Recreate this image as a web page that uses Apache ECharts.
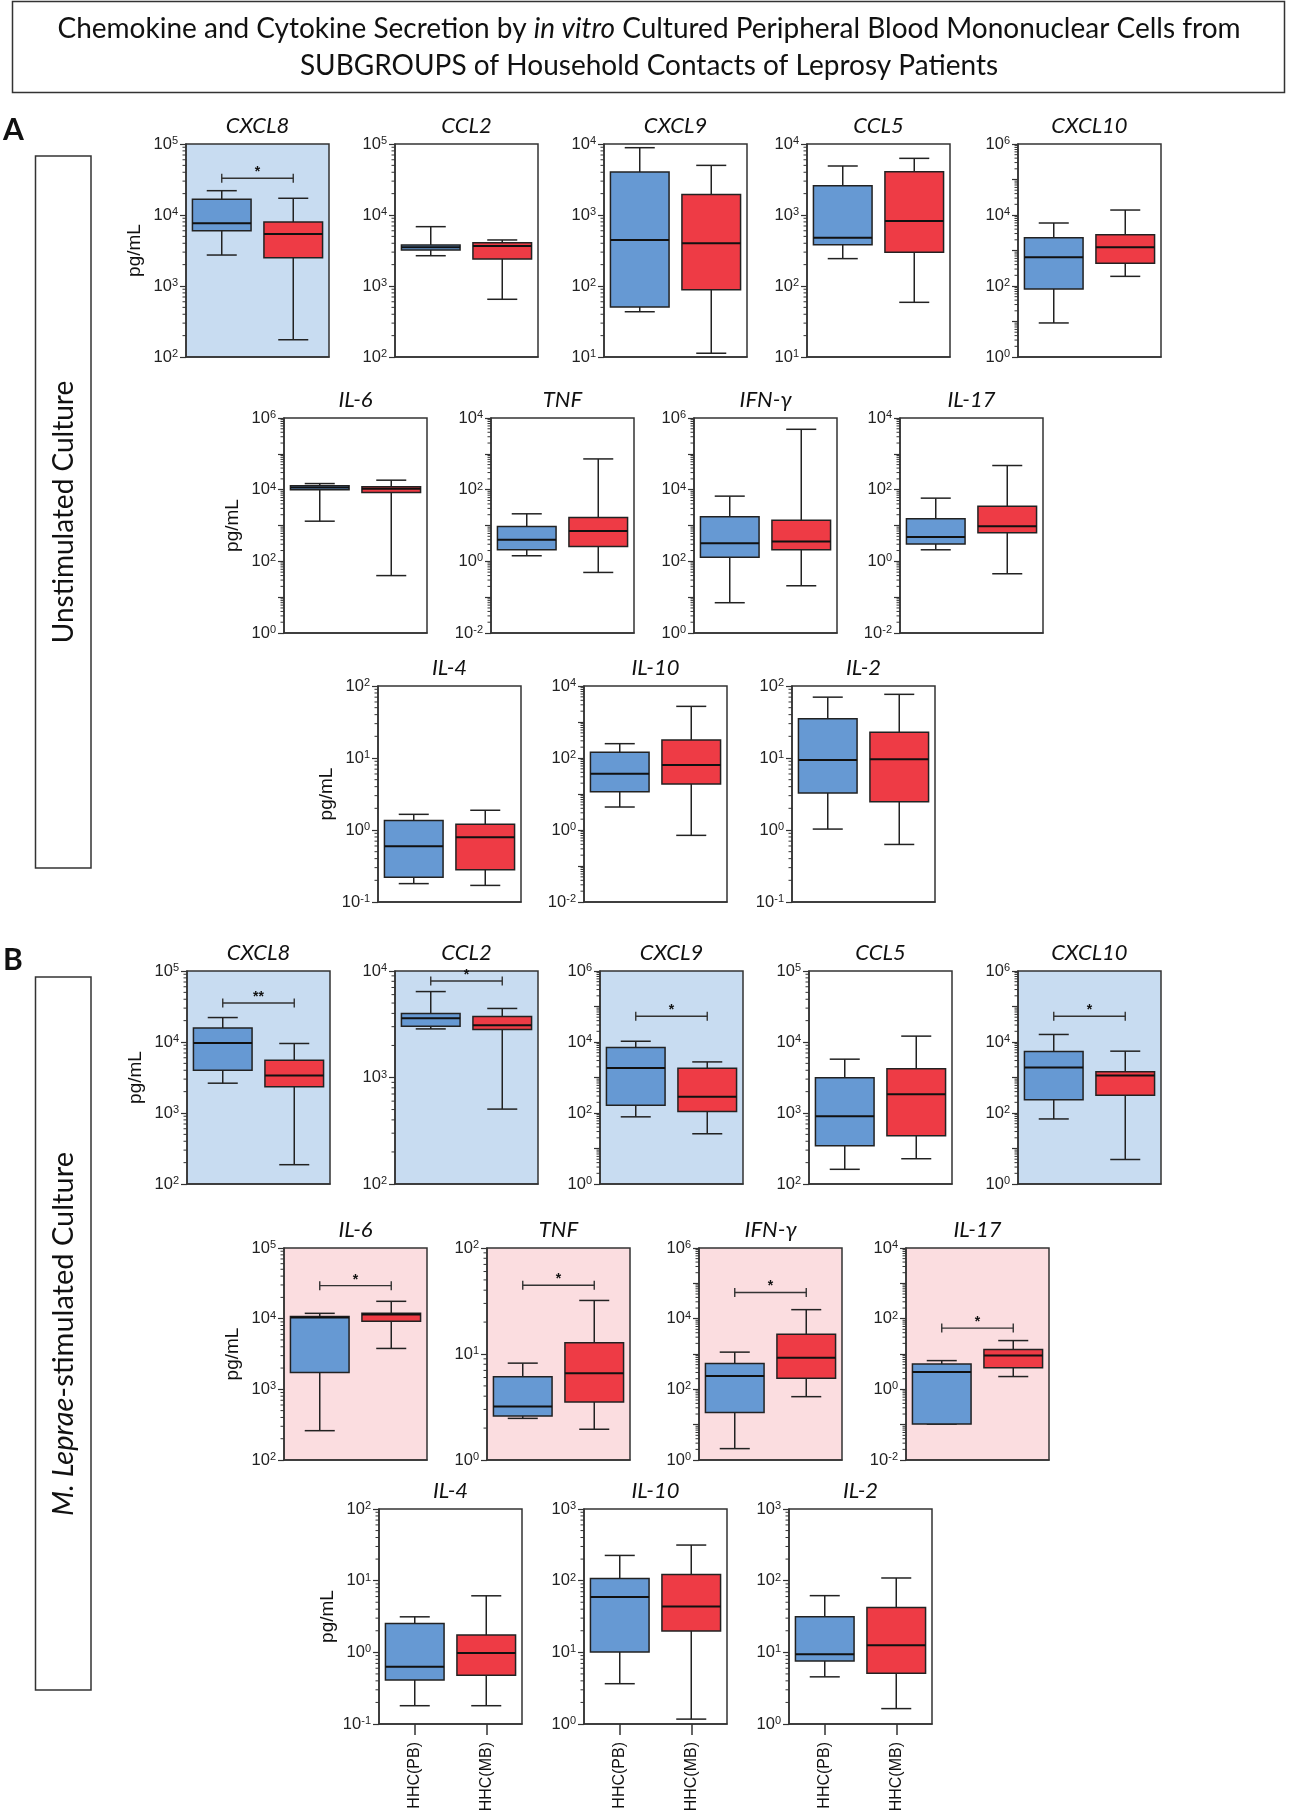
<!DOCTYPE html>
<html><head><meta charset="utf-8">
<script src="https://cdn.jsdelivr.net/npm/echarts@6/dist/echarts.min.js"></script>
<style>html,body{margin:0;padding:0;background:#fff}#c{width:1298px;height:1816px}</style>
</head><body><div id="c"></div>
<script>
// ===================== DATA =====================
const groups = ['HHC(PB)', 'HHC(MB)'];
const cytokines = ['CXCL8','CCL2','CXCL9','CCL5','CXCL10','IL-6','TNF','IFN-γ','IL-17','IL-4','IL-10','IL-2'];
// five-number summaries [min, Q1, median, Q3, max] in pg/mL, same order as cytokines
const unstimPB = [
  [2730, 6010, 7640, 16600, 22000],
  [2670, 3210, 3500, 3780, 6850],
  [43.4, 50.6, 445, 4040, 8870],
  [243, 382, 478, 2590, 4900],
  [9.1, 82, 643, 2300, 5950],
  [1320, 9870, 11500, 12800, 14800],
  [1.43, 2.1, 4.0, 9.4, 21.2],
  [7.0, 131, 318, 1750, 6600],
  [2.1, 3.03, 4.75, 15.4, 58],
  [0.18, 0.22, 0.594, 1.36, 1.65],
  [4.35, 11.6, 36.6, 144, 250],
  [1.03, 3.27, 9.4, 35, 70]
];
const unstimMB = [
  [175, 2500, 5400, 7960, 17200],
  [650, 2400, 3650, 4080, 4450],
  [11.3, 88.7, 400, 1950, 5000],
  [58.9, 299, 822, 4070, 6280],
  [187, 436, 1230, 2800, 13800],
  [40, 8380, 10600, 12000, 18400],
  [0.49, 2.6, 7.0, 16.7, 721],
  [20.8, 209, 355, 1400, 484000],
  [0.45, 6.3, 9.6, 34.7, 472],
  [0.17, 0.28, 0.79, 1.2, 1.88],
  [0.71, 19, 64, 316, 2720],
  [0.63, 2.47, 9.6, 22.7, 76.6]
];
const stimPB = [
  [2630, 4000, 9700, 15800, 22100],
  [2860, 3030, 3610, 3990, 6410],
  [78, 166, 1860, 6980, 10500],
  [161, 347, 898, 3130, 5730],
  [68, 235, 1920, 5410, 16300],
  [260, 1730, 10400, 10700, 11900],
  [2.47, 2.6, 3.19, 6.1, 8.2],
  [2.1, 22, 240, 537, 1130],
  [0.104, 0.104, 3.1, 5.2, 6.5],
  [0.18, 0.41, 0.63, 2.53, 3.13],
  [3.65, 10.1, 59, 107, 225],
  [4.55, 7.6, 9.4, 31.3, 61.8]
];
const stimMB = [
  [187, 2340, 3380, 5550, 9530],
  [505, 2820, 3100, 3740, 4450],
  [26, 111, 286, 1830, 2750],
  [227, 479, 1830, 4200, 12100],
  [4.9, 316, 1140, 1450, 5520],
  [3790, 9180, 11500, 11900, 17600],
  [1.95, 3.53, 6.6, 12.8, 32],
  [62, 206, 783, 3600, 18000],
  [2.3, 4.1, 9.0, 13.5, 24],
  [0.18, 0.48, 0.98, 1.74, 6.15],
  [1.17, 19.8, 43.6, 122, 314],
  [1.64, 5.1, 12.6, 42.3, 109]
];
// y-axis ranges as powers of ten [minExp, maxExp]
const unstimAxisExp = [[2,5],[2,5],[1,4],[1,4],[0,6],[0,6],[-2,4],[0,6],[-2,4],[-1,2],[-2,4],[-1,2]];
const stimAxisExp   = [[2,5],[2,4],[0,6],[2,5],[0,6],[2,5],[0,2],[0,6],[-2,4],[-1,2],[0,3],[0,3]];
// significance marks and the level of the bracket (pg/mL)
const unstimSig  = ['*','','','','','','','','','','',''];
const unstimSigY = [33000,null,null,null,null,null,null,null,null,null,null,null];
const stimSig    = ['**','*','*','','*','*','*','*','*','','',''];
const stimSigY   = [35500,8060,53000,null,53000,29300,44.5,55000,54,null,null,null];

// ===================== LAYOUT =====================
const W = 143;
const unstimPos = [[186,144,213],[395,144,213],[604,144,213],[807,144,213],[1018,144,213],
                   [284,418,215],[491,418,215],[694,418,215],[900,418,215],
                   [378,686,216],[584,686,216],[792,686,216]];
const stimPos   = [[187,971,213],[395,971,213],[600,971,213],[809,971,213],[1018,971,213],
                   [284,1248,212],[487,1248,212],[699,1248,212],[906,1248,212],
                   [379,1509,215],[584,1509,215],[789,1509,215]];
const rowStarts = [0,5,9];

const BLUE = '#6699d3', RED = '#ee3b45', EDGE = '#222';
const BG_BLUE = '#c8dcf1', BG_PINK = '#fbdde0';
const FN_AX = "'Liberation Sans Narrow','Liberation Sans',Arial,sans-serif";
const FN_T = "Lato,'Open Sans',sans-serif";

const option = {animation:false, backgroundColor:'#fff', grid:[], xAxis:[], yAxis:[], series:[], graphic:[]};

function renderBox(params, api) {
  const c = api.value(0);
  const cs = params.coordSys;
  const band = cs.width / 2;
  const bw = band * 0.82, cw = band * 0.42;
  const pMin = api.coord([c, api.value(1)]);
  const q1 = api.coord([c, api.value(2)])[1];
  const med = api.coord([c, api.value(3)])[1];
  const q3 = api.coord([c, api.value(4)])[1];
  const pMax = api.coord([c, api.value(5)]);
  const x = pMin[0];
  const fill = c === 0 ? BLUE : RED;
  const ls = {stroke: EDGE, lineWidth: 1.5};
  return {type:'group', children:[
    {type:'line', shape:{x1:x,y1:pMax[1],x2:x,y2:q3}, style:ls},
    {type:'line', shape:{x1:x,y1:q1,x2:x,y2:pMin[1]}, style:ls},
    {type:'line', shape:{x1:x-cw/2,y1:pMax[1],x2:x+cw/2,y2:pMax[1]}, style:ls},
    {type:'line', shape:{x1:x-cw/2,y1:pMin[1],x2:x+cw/2,y2:pMin[1]}, style:ls},
    {type:'rect', shape:{x:x-bw/2,y:q3,width:bw,height:q1-q3}, style:{fill:fill, stroke:EDGE, lineWidth:1.5}},
    {type:'line', shape:{x1:x-bw/2,y1:med,x2:x+bw/2,y2:med}, style:{stroke:'#111', lineWidth:2}}
  ]};
}

function addSection(pbArr, mbArr, expArr, sigArr, sigYArr, pos, showXLabels) {
  cytokines.forEach(function(name, i) {
    const gi = option.grid.length;
    const p = pos[i];
    const exp = expArr[i];
    const sig = sigArr[i];
    const chemokine = name.charAt(0) === 'C';
    const bg = sig ? (chemokine ? BG_BLUE : BG_PINK) : 'transparent';
    const step = (exp[1] - exp[0]) > 4 ? 2 : 1;
    const isLast = showXLabels && i >= 9;
    option.grid.push({left:p[0], top:p[1], width:W, height:p[2], show:true,
      backgroundColor:bg, borderColor:'#333', borderWidth:1.5});
    option.xAxis.push({type:'category', gridIndex:gi, data:groups, boundaryGap:true,
      axisLine:{show:true, lineStyle:{color:'#333', width:1.5}},
      axisTick:{show:isLast, alignWithLabel:true, length:11, lineStyle:{color:'#333', width:1.5}},
      axisLabel:{show:isLast, rotate:90, margin:18, fontSize:16, fontFamily:'Liberation Sans', color:'#111'},
      splitLine:{show:false}});
    option.yAxis.push({type:'log', logBase:10, gridIndex:gi,
      min:Math.pow(10, exp[0]), max:Math.pow(10, exp[1]),
      name: rowStarts.indexOf(i) >= 0 ? 'pg/mL' : '',
      nameLocation:'middle', nameGap:42, nameRotate:90,
      nameTextStyle:{fontSize:19, fontFamily:'Liberation Sans', color:'#111'},
      axisLine:{show:true, lineStyle:{color:'#333', width:1.5}},
      axisTick:{show:true, length:6, lineStyle:{color:'#333', width:1.2}},
      splitLine:{show:false},
      axisLabel:{margin:8, color:'#222',
        formatter:function(v){
          const e = Math.round(Math.log10(v));
          if ((e - exp[0]) % step !== 0) return '';
          return '{b|10}{s|' + e + '}';
        },
        rich:{
          b:{fontSize:16.5, fontFamily:FN_AX, color:'#222', lineHeight:17},
          s:{fontSize:11, fontFamily:FN_AX, color:'#222', lineHeight:11, verticalAlign:'top'}
        }}
    });
    // minor ticks at 2..9 x 10^n
    const minor = [];
    for (let e = exp[0]; e < exp[1]; e++) for (let k = 2; k <= 9; k++) minor.push([0, k * Math.pow(10, e)]);
    option.series.push({type:'custom', xAxisIndex:gi, yAxisIndex:gi, data:minor, silent:true, z:1,
      renderItem:function(params, api){
        const y = api.coord([0, api.value(1)])[1];
        const x0 = params.coordSys.x;
        return {type:'line', shape:{x1:x0-3.5, y1:y, x2:x0, y2:y}, style:{stroke:'#333', lineWidth:1}};
      }});
    option.series.push({type:'custom', name:name, xAxisIndex:gi, yAxisIndex:gi, z:3,
      data:[[0].concat(pbArr[i]), [1].concat(mbArr[i])],
      encode:{x:0, y:[1,2,3,4,5]},
      renderItem:renderBox});
    if (sig) {
      option.series.push({type:'custom', xAxisIndex:gi, yAxisIndex:gi, z:4, data:[[0, sigYArr[i]]],
        renderItem:function(params, api){
          const yv = api.value(1);
          const a = api.coord([0, yv]), b = api.coord([1, yv]);
          const ls = {stroke:'#333', lineWidth:1.4};
          return {type:'group', children:[
            {type:'line', shape:{x1:a[0], y1:a[1], x2:b[0], y2:b[1]}, style:ls},
            {type:'line', shape:{x1:a[0], y1:a[1]-4.5, x2:a[0], y2:a[1]+4.5}, style:ls},
            {type:'line', shape:{x1:b[0], y1:b[1]-4.5, x2:b[0], y2:b[1]+4.5}, style:ls},
            {type:'text', style:{text:sig, x:(a[0]+b[0])/2, y:a[1]-6, align:'center', verticalAlign:'middle',
              fontSize:14, fontWeight:'bold', fontFamily:'Liberation Sans', fill:'#111'}}
          ]};
        }});
    }
    // panel title
    option.graphic.push({type:'text', x:p[0] + W/2, y:p[1] - 18, silent:true,
      style:{text:name, align:'center', verticalAlign:'middle', fontSize:22, fontStyle:'italic',
        fontFamily:FN_T, fill:'#111'}});
  });
}

addSection(unstimPB, unstimMB, unstimAxisExp, unstimSig, unstimSigY, unstimPos, false);
addSection(stimPB, stimMB, stimAxisExp, stimSig, stimSigY, stimPos, true);

// headline box, section letters, side boxes
option.graphic.push(
  {type:'rect', shape:{x:12.5, y:1.5, width:1272, height:91}, style:{fill:'none', stroke:'#333', lineWidth:1.5}},
  {type:'text', x:649, y:29, style:{text:'Chemokine and Cytokine Secretion by {i|in vitro} Cultured Peripheral Blood Mononuclear Cells from',
    align:'center', verticalAlign:'middle', fontSize:28, fontFamily:FN_T, fill:'#111',
    rich:{i:{fontStyle:'italic', fontSize:28, fontFamily:FN_T, fill:'#111'}}}},
  {type:'text', x:649, y:66, style:{text:'SUBGROUPS of Household Contacts of Leprosy Patients',
    align:'center', verticalAlign:'middle', fontSize:28, fontFamily:FN_T, fill:'#111'}},
  {type:'text', x:3, y:130, style:{text:'A', align:'left', verticalAlign:'middle', fontSize:30, fontWeight:'bold', fontFamily:FN_T, fill:'#111'}},
  {type:'text', x:3, y:960, style:{text:'B', align:'left', verticalAlign:'middle', fontSize:30, fontWeight:'bold', fontFamily:FN_T, fill:'#111'}},
  {type:'rect', shape:{x:35.5, y:156, width:55.5, height:712}, style:{fill:'none', stroke:'#333', lineWidth:1.5}},
  {type:'rect', shape:{x:35.5, y:977, width:55.5, height:713}, style:{fill:'none', stroke:'#333', lineWidth:1.5}},
  {type:'text', x:64, y:512, rotation:Math.PI/2, style:{text:'Unstimulated Culture', align:'center', verticalAlign:'middle',
    fontSize:28, fontFamily:FN_T, fill:'#111'}},
  {type:'text', x:64, y:1334, rotation:Math.PI/2, style:{text:'{i|M. Leprae}-stimulated Culture', align:'center', verticalAlign:'middle',
    fontSize:29, fontFamily:FN_T, fill:'#111', rich:{i:{fontStyle:'italic', fontSize:29, fontFamily:FN_T, fill:'#111'}}}}
);

const chart = echarts.init(document.getElementById('c'), null, {renderer:'canvas'});
chart.setOption(option);
</script>
</body></html>
